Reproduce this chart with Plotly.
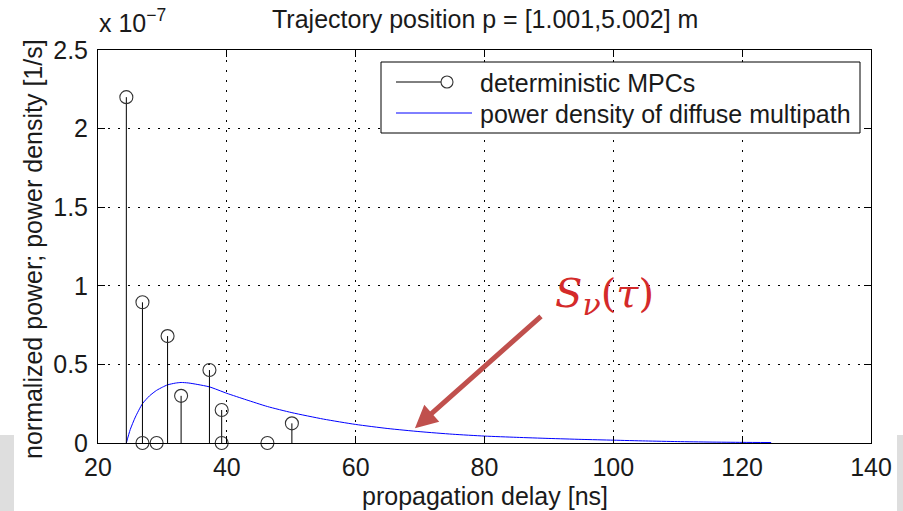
import plotly.graph_objects as go

# Deterministic multipath components (delay in ns, normalized power in units of 1e-7)
mpc_delay_ns = [24.4, 26.9, 26.9, 29.1, 30.8, 32.9, 37.3, 39.2, 39.2, 46.3, 50.1]
mpc_power_e7 = [2.20, 0.895, 0.0, 0.0, 0.68, 0.30, 0.464, 0.21, 0.0, 0.0, 0.125]

# Power delay density of the diffuse multipath (units of 1e-7 1/s)
dmc_delay_ns = [24.4, 25.0, 25.8, 26.9, 28.0, 29.1, 30.0, 30.8, 32.0, 32.9, 34.0,
                35.5, 37.3, 40.0, 43.0, 46.3, 50.1, 55.0, 60.0, 65.0, 70.0, 75.0,
                80.0, 85.0, 90.0, 95.0, 100.0, 105.0, 110.0, 115.0, 120.0, 124.5]
dmc_density_e7 = [0.0, 0.085, 0.165, 0.25, 0.30, 0.335, 0.355, 0.37, 0.381, 0.385, 0.382,
                  0.372, 0.357, 0.316, 0.275, 0.232, 0.193, 0.152, 0.118, 0.092, 0.072, 0.056,
                  0.044, 0.036, 0.029, 0.023, 0.018, 0.013, 0.009, 0.006, 0.004, 0.003]

x_ticks = [20, 40, 60, 80, 100, 120, 140]
y_ticks = [0, 0.5, 1, 1.5, 2, 2.5]
y_tick_text = ["0", "0.5", "1", "1.5", "2", "2.5"]

W, H = 903, 511
L, R, T, B = 98, 32, 50, 68
PW, PH = W - L - R, H - T - B


def px(xp):
    return (xp - L) / PW


def py(yp):
    return (H - B - yp) / PH


FONT = "Liberation Sans, Arial, Helvetica, sans-serif"
TXT = "#1a1a1a"
FS = 25

# stems: vertical segments from 0 to each component's power
stem_x, stem_y = [], []
for d, p in zip(mpc_delay_ns, mpc_power_e7):
    stem_x += [d, d, None]
    stem_y += [0, p, None]

fig = go.Figure()
fig.add_trace(go.Scatter(x=dmc_delay_ns, y=dmc_density_e7, mode="lines",
                         line=dict(color="#0000ff", width=1, shape="spline", smoothing=0.6),
                         showlegend=False, hoverinfo="skip"))
fig.add_trace(go.Scatter(x=stem_x, y=stem_y, mode="lines",
                         line=dict(color="#000000", width=1),
                         showlegend=False, hoverinfo="skip"))
fig.add_trace(go.Scatter(x=mpc_delay_ns, y=mpc_power_e7, mode="markers",
                         marker=dict(symbol="circle-open", size=13,
                                     color="#333333", line=dict(width=1.1)),
                         cliponaxis=False, showlegend=False))

axis_common = dict(showline=True, linecolor="#000000", linewidth=1, mirror="ticks",
                   ticks="inside", ticklen=7, tickcolor="#000000", tickwidth=1,
                   showgrid=True, gridcolor="#000000", gridwidth=1, griddash="1.5px,8.5px",
                   zeroline=False, tickfont=dict(family=FONT, size=FS, color=TXT))

fig.update_xaxes(range=[20, 140], tickvals=x_ticks, ticklabelstandoff=2, **axis_common)
fig.update_yaxes(range=[0, 2.5], tickvals=y_ticks, ticktext=y_tick_text,
                 ticklabelstandoff=4, **axis_common)

shapes = []
# light gray strips at the lower corners
shapes.append(dict(type="rect", xref="paper", yref="paper", x0=px(0), x1=px(14),
                   y0=py(511), y1=py(435), fillcolor="#dedede", line=dict(width=0), layer="below"))
shapes.append(dict(type="rect", xref="paper", yref="paper", x0=px(897), x1=px(903),
                   y0=py(511), y1=py(435), fillcolor="#dedede", line=dict(width=0), layer="below"))
# legend box
shapes.append(dict(type="rect", xref="paper", yref="paper", x0=px(381), x1=px(860),
                   y0=py(133), y1=py(62), fillcolor="white", line=dict(color="#000000", width=1)))
shapes.append(dict(type="line", xref="paper", yref="paper", x0=px(396), x1=px(441),
                   y0=py(82), y1=py(82), line=dict(color="#000000", width=1)))
shapes.append(dict(type="circle", xref="paper", yref="paper", x0=px(441), x1=px(453),
                   y0=py(88), y1=py(76), line=dict(color="#333333", width=1.1)))
shapes.append(dict(type="line", xref="paper", yref="paper", x0=px(396), x1=px(472),
                   y0=py(113), y1=py(113), line=dict(color="#0000ff", width=1)))

SERIF = "DejaVu Serif, Liberation Serif, serif"
annotations = [
    dict(text="Trajectory position p = [1.001,5.002] m", xref="paper", yref="paper",
         x=px(485), y=py(19), showarrow=False, xanchor="center", yanchor="middle",
         font=dict(family=FONT, size=FS, color=TXT)),
    dict(text="x 10<sup>−7</sup>", xref="paper", yref="paper",
         x=px(97), y=py(39), showarrow=False, xanchor="left", yanchor="bottom",
         font=dict(family=FONT, size=FS, color=TXT)),
    dict(text="normalized power; power density [1/s]", xref="paper", yref="paper",
         x=px(33), y=py(249), showarrow=False, textangle=-90, xanchor="center", yanchor="middle",
         font=dict(family=FONT, size=FS, color=TXT)),
    dict(text="propagation delay [ns]", xref="paper", yref="paper",
         x=px(485), y=py(496), showarrow=False, xanchor="center", yanchor="middle",
         font=dict(family=FONT, size=FS, color=TXT)),
    dict(text="deterministic MPCs", xref="paper", yref="paper",
         x=px(478), y=py(83), showarrow=False, xanchor="left", yanchor="middle",
         font=dict(family=FONT, size=FS, color=TXT)),
    dict(text="power density of diffuse multipath", xref="paper", yref="paper",
         x=px(478), y=py(114), showarrow=False, xanchor="left", yanchor="middle",
         font=dict(family=FONT, size=FS, color=TXT)),
    # S_nu(tau) label with arrow pointing at the diffuse curve
    dict(text="<i>S</i><sub><span style='font-size:30px'><i>ν</i></span></sub>(<i>τ</i>)",
         xref="paper", yref="paper",
         x=px(604), y=py(296), showarrow=False, xanchor="center", yanchor="middle",
         font=dict(family=SERIF, size=40, color="#d42a2a")),
    dict(text="", x=69.2, y=0.094, xref="x", yref="y", ax=89.0, ay=0.814,
         axref="x", ayref="y", showarrow=True, arrowhead=2, arrowsize=0.9,
         arrowwidth=5, arrowcolor="#c0504d", standoff=0),
]

fig.update_layout(width=W, height=H, margin=dict(l=L, r=R, t=T, b=B),
                  paper_bgcolor="white", plot_bgcolor="white",
                  shapes=shapes, annotations=annotations, showlegend=False)

fig.write_html("out.html")
